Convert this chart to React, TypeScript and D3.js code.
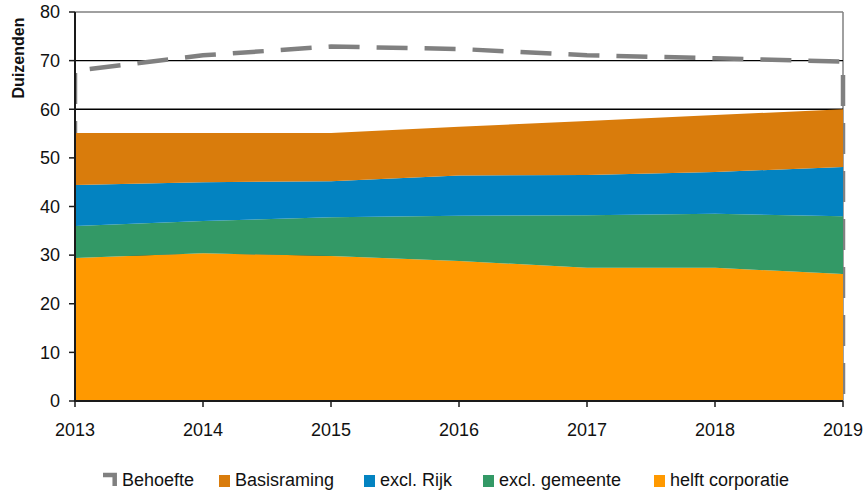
import React from 'react';
import * as d3 from 'd3';

const years = [2013, 2014, 2015, 2016, 2017, 2018, 2019];
const behoefte = [67.9, 71.1, 72.9, 72.4, 71.1, 70.5, 69.8];
const helftCorporatie = [29.4, 30.4, 29.8, 28.8, 27.4, 27.4, 26.1];
const exclGemeente = [6.6, 6.6, 8.0, 9.3, 10.8, 11.1, 11.9];
const exclRijk = [8.4, 8.0, 7.4, 8.3, 8.3, 8.6, 10.1];
const basisraming = [10.7, 10.1, 9.9, 10.0, 11.1, 11.7, 11.9];
const yTicks = [0, 10, 20, 30, 40, 50, 60, 70, 80];

const layerKeys = ['helft corporatie', 'excl. gemeente', 'excl. Rijk', 'Basisraming'];
const layerColors: Record<string, string> = {
  'helft corporatie': '#FF9900',
  'excl. gemeente': '#339966',
  'excl. Rijk': '#0383C1',
  'Basisraming': '#D97C0C',
};
const legendItems = ['Behoefte', 'Basisraming', 'excl. Rijk', 'excl. gemeente', 'helft corporatie'];

const W = 866, H = 495;
const left = 75, right = 843, top = 12, bottom = 401;
const FONT = 'Liberation Sans, Arial, sans-serif';

export default function App() {
  const x = d3.scaleLinear().domain([2013, 2019]).range([left, right]);
  const y = d3.scaleLinear().domain([0, 80]).range([bottom, top]);

  const rows = years.map((yr, i) => ({
    year: yr,
    'helft corporatie': helftCorporatie[i],
    'excl. gemeente': exclGemeente[i],
    'excl. Rijk': exclRijk[i],
    'Basisraming': basisraming[i],
  }));
  const stacked = d3.stack<any>().keys(layerKeys)(rows);
  const area = d3
    .area<any>()
    .x((d) => x(d.data.year))
    .y0((d) => y(d[0]))
    .y1((d) => y(d[1]));

  const behPts: [number, number][] = years.map((yr, i) => [x(yr), y(behoefte[i])]);
  const behPath =
    `M${x(2013)},${y(0)}` +
    behPts.map((p) => `L${p[0]},${p[1]}`).join('') +
    `L${x(2019)},${y(0)}`;

  const legendX: Record<string, number> = {
    'Behoefte': 122,
    'Basisraming': 235,
    'excl. Rijk': 380,
    'excl. gemeente': 499,
    'helft corporatie': 670,
  };

  return (
    <svg width={W} height={H} style={{ display: 'block', position: 'absolute', left: 0, top: 0 }}>
      <defs>
        <clipPath id="behClip">
          <rect x={left - 1} y={0} width={right - left + 10} height={bottom + 2} />
        </clipPath>
      </defs>
      <rect x={0} y={0} width={W} height={H} fill="#fff" />
      {/* plot border */}
      <line x1={left} x2={right} y1={top} y2={top} stroke="#808080" strokeWidth={1.5} />
      <line x1={right} x2={right} y1={top} y2={bottom} stroke="#808080" strokeWidth={1.5} />
      {/* gridlines */}
      {yTicks.filter((t) => t > 0 && t < 80).map((t) => (
        <line key={t} x1={left} x2={right} y1={y(t)} y2={y(t)} stroke="#000" strokeWidth={1.3} />
      ))}
      {/* Behoefte */}
      <path
        d={behPath}
        fill="none"
        stroke="#808080"
        strokeWidth={4.5}
        strokeDasharray="31 17"
        strokeDashoffset={39}
        clipPath="url(#behClip)"
      />
      {/* stacked areas */}
      {stacked.map((s) => (
        <path key={s.key} d={area(s) || ''} fill={layerColors[s.key]} />
      ))}
      {/* axes */}
      <line x1={left} x2={left} y1={top} y2={bottom + 1} stroke="#1a1a1a" strokeWidth={2} />
      <line x1={left - 1} x2={right} y1={bottom} y2={bottom} stroke="#1a1a1a" strokeWidth={2} />
      {yTicks.map((t) => (
        <g key={t}>
          <line x1={left - 6} x2={left} y1={y(t)} y2={y(t)} stroke="#1a1a1a" strokeWidth={1.5} />
          <text x={60} y={y(t)} dy="0.35em" textAnchor="end" fontFamily={FONT} fontSize={18} fill="#111">
            {t}
          </text>
        </g>
      ))}
      {years.map((yr) => (
        <g key={yr}>
          <line x1={x(yr)} x2={x(yr)} y1={bottom} y2={bottom + 6} stroke="#1a1a1a" strokeWidth={1.5} />
          <text x={x(yr)} y={436} textAnchor="middle" fontFamily={FONT} fontSize={18} fill="#111">
            {yr}
          </text>
        </g>
      ))}
      <text
        transform={`translate(24,58) rotate(-90)`}
        textAnchor="middle"
        fontFamily={FONT}
        fontSize={16}
        fontWeight="bold"
        fill="#111"
      >
        Duizenden
      </text>
      {/* legend */}
      {legendItems.map((name) => {
        const tx = legendX[name];
        return (
          <g key={name}>
            {name === 'Behoefte' ? (
              <path d={`M103,475 H114.7 V486`} fill="none" stroke="#808080" strokeWidth={4.5} />
            ) : (
              <rect x={tx - 16} y={475} width={11} height={12} fill={layerColors[name]} />
            )}
            <text x={tx} y={486} fontFamily={FONT} fontSize={18} fill="#111">
              {name}
            </text>
          </g>
        );
      })}
    </svg>
  );
}
